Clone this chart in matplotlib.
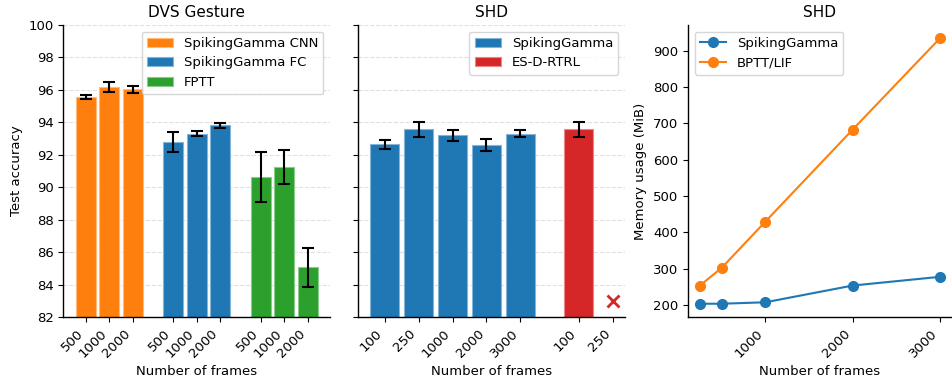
import matplotlib
matplotlib.use('Agg')
import matplotlib.pyplot as plt
import numpy as np
from matplotlib.colors import to_rgb

#%% DATA
dvs_labels = ['500', '1000', '2000']
dvs_cnn = [95.57, 96.19, 96.05]
dvs_cnn_err = [0.14, 0.32, 0.22]
dvs_fc = [92.80, 93.31, 93.81]
dvs_fc_err = [0.62, 0.14, 0.18]
dvs_fptt = [90.64, 91.25, 85.06]
dvs_fptt_err = [1.55, 1.06, 1.22]

shd_labels = ['100', '250', '1000', '2000', '3000']
shd_sg = [92.65, 93.56, 93.19, 92.61, 93.31]
shd_sg_err = [0.27, 0.47, 0.36, 0.39, 0.23]
shd_es_labels = ['100', '250']
shd_es = [93.56]
shd_es_err = [0.47]

mem_frames = [250, 500, 1000, 2000, 3000]
mem_sg = [204, 204, 208, 254, 278]
mem_bptt = [254, 303, 430, 683, 934]

plt.rcParams['font.size'] = 9.5
plt.rcParams['axes.linewidth'] = 1.0


def lighter(c, f=0.45):
    r = np.array(to_rgb(c))
    return tuple(r + (1 - r) * f)


def bars(ax, pos, vals, errs, color, label):
    ax.bar(pos, vals, width=0.85, color=color, edgecolor=lighter(color), linewidth=0.8,
           label=label, zorder=2)
    ax.errorbar(pos, vals, yerr=errs, fmt='none', ecolor='black', elinewidth=1.5,
                capsize=4.5, capthick=1.5, zorder=3)


fig = plt.figure(figsize=(9.53, 3.79), dpi=100)
ax1 = fig.add_axes([0.0666, 0.1636, 0.2797, 0.7704])
ax2 = fig.add_axes([0.3757, 0.1636, 0.2800, 0.7704], sharey=ax1)
ax3 = fig.add_axes([0.7219, 0.1636, 0.2770, 0.7704])

gap = 1.7
p1 = np.arange(3)
p2 = p1 + 2 + gap
p3 = p2 + 2 + gap
bars(ax1, p1, dvs_cnn, dvs_cnn_err, 'tab:orange', 'SpikingGamma CNN')
bars(ax1, p2, dvs_fc, dvs_fc_err, 'tab:blue', 'SpikingGamma FC')
bars(ax1, p3, dvs_fptt, dvs_fptt_err, 'tab:green', 'FPTT')
ax1.set_xticks(np.concatenate([p1, p2, p3]))
ax1.set_xticklabels(dvs_labels * 3, rotation=45, ha='right')
ax1.set_ylim(82, 100)
ax1.set_yticks(np.arange(82, 101, 2))
ax1.set_ylabel('Test accuracy')
ax1.set_xlabel('Number of frames')
ax1.set_title('DVS Gesture', fontsize=11)
ax1.legend(loc='upper right')

q1 = np.arange(len(shd_labels))
q2 = np.array([q1[-1] + gap + 0.02, q1[-1] + gap + 1.02])
bars(ax2, q1, shd_sg, shd_sg_err, 'tab:blue', 'SpikingGamma')
bars(ax2, q2[:1], shd_es, shd_es_err, 'tab:red', 'ES-D-RTRL')
# ES-D-RTRL did not run at 250 frames
ax2.plot(q2[1], 83.0, 'x', color='tab:red', ms=8, mew=2, zorder=3)
ax2.set_xticks(np.concatenate([q1, q2]))
ax2.set_xticklabels(shd_labels + shd_es_labels, rotation=45, ha='right')
ax2.tick_params(axis='y', labelleft=False)
ax2.set_xlabel('Number of frames')
ax2.set_title('SHD', fontsize=11)
ax2.legend(loc='upper right')

for ax in (ax1, ax2):
    ax.yaxis.grid(True, linestyle='--', color='lightgray', alpha=0.7, zorder=0)
    ax.set_axisbelow(True)

ax3.plot(mem_frames, mem_sg, 'o-', color='tab:blue', ms=7, lw=1.5, label='SpikingGamma')
ax3.plot(mem_frames, mem_bptt, 'o-', color='tab:orange', ms=7, lw=1.5, label='BPTT/LIF')
ax3.set_xticks([1000, 2000, 3000])
ax3.tick_params(axis='x', labelrotation=45)
for t in ax3.get_xticklabels():
    t.set_ha('right')
ax3.set_ylabel('Memory usage (MiB)')
ax3.set_xlabel('Number of frames')
ax3.set_title('SHD', fontsize=11)
ax3.legend(loc='upper left')

for ax in (ax1, ax2, ax3):
    ax.spines['top'].set_visible(False)
    ax.spines['right'].set_visible(False)

fig.savefig('out.png', dpi=100)
